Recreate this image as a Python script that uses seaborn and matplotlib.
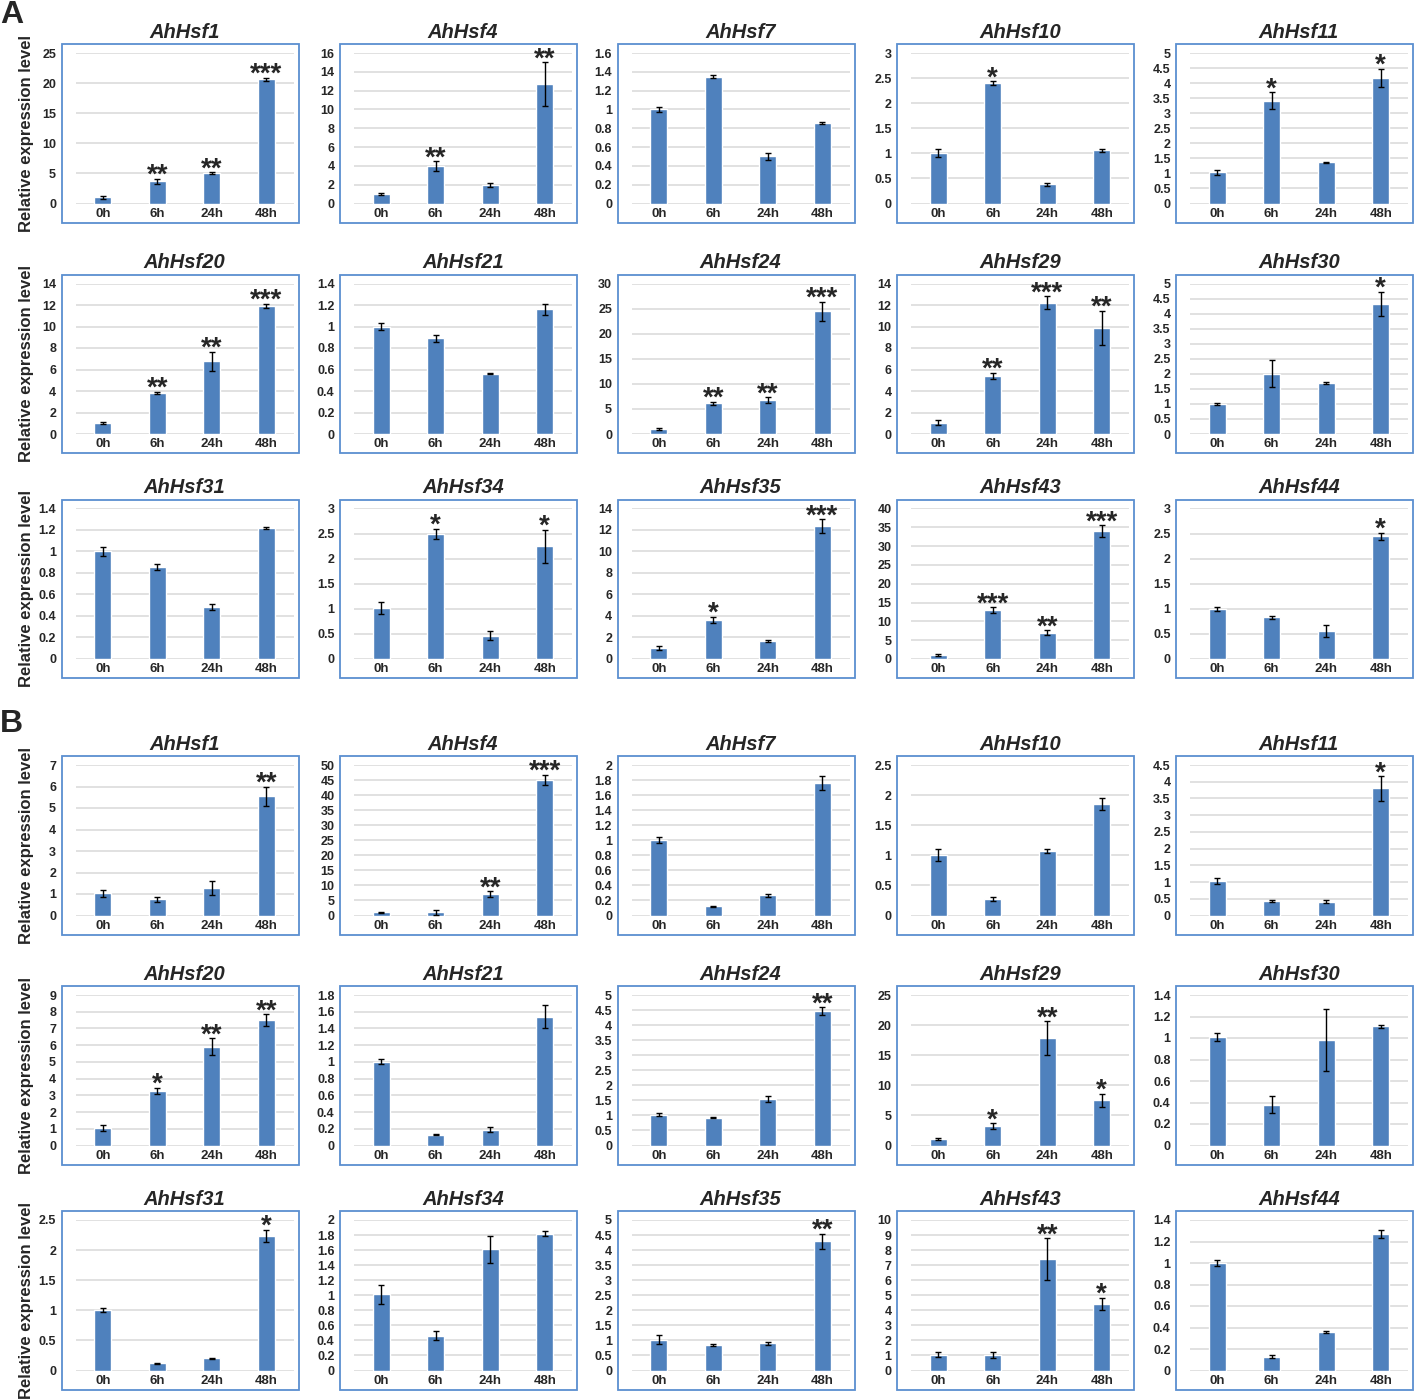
import numpy as np
import pandas as pd
import matplotlib
matplotlib.use("Agg")
import matplotlib.pyplot as plt
import matplotlib.patches as mpatches
from matplotlib.ticker import FuncFormatter
import seaborn as sns

# time points and gene names (same layout in panel A and B)
times = ["0h", "6h", "24h", "48h"]
genes = ["AhHsf1", "AhHsf4", "AhHsf7", "AhHsf10", "AhHsf11",
         "AhHsf20", "AhHsf21", "AhHsf24", "AhHsf29", "AhHsf30",
         "AhHsf31", "AhHsf34", "AhHsf35", "AhHsf43", "AhHsf44"]

# panel A
a_mean = [[1.0, 3.7, 5.0, 20.6], [1.0, 4.0, 2.0, 12.7], [1.0, 1.35, 0.5, 0.86],
          [1.0, 2.4, 0.38, 1.06], [1.03, 3.42, 1.37, 4.18],
          [1.0, 3.85, 6.75, 11.9], [1.0, 0.89, 0.56, 1.16], [1.0, 6.1, 6.7, 24.5],
          [1.05, 5.4, 12.2, 9.85], [1.0, 2.0, 1.7, 4.33],
          [1.0, 0.855, 0.485, 1.215], [1.01, 2.5, 0.46, 2.25], [1.0, 3.65, 1.65, 12.35],
          [1.0, 13.0, 7.0, 34.0], [1.0, 0.83, 0.55, 2.45]]
a_err = [[0.2, 0.4, 0.15, 0.3], [0.1, 0.5, 0.2, 2.3], [0.03, 0.02, 0.04, 0.01],
         [0.08, 0.04, 0.03, 0.03], [0.08, 0.28, 0.01, 0.3],
         [0.1, 0.1, 0.9, 0.2], [0.03, 0.03, 0.005, 0.05], [0.15, 0.3, 0.6, 1.9],
         [0.25, 0.3, 0.6, 1.6], [0.04, 0.45, 0.03, 0.4],
         [0.04, 0.03, 0.025, 0.01], [0.12, 0.1, 0.09, 0.33], [0.2, 0.3, 0.1, 0.65],
         [0.3, 0.8, 0.6, 1.5], [0.04, 0.03, 0.12, 0.07]]
a_stars = [["", "**", "**", "***"], ["", "**", "", "**"], ["", "", "", ""],
           ["", "*", "", ""], ["", "*", "", "*"],
           ["", "**", "**", "***"], ["", "", "", ""], ["", "**", "**", "***"],
           ["", "**", "***", "**"], ["", "", "", "*"],
           ["", "", "", ""], ["", "*", "", "*"], ["", "*", "", "***"],
           ["", "***", "**", "***"], ["", "", "", "*"]]
a_ymax = [25, 16, 1.6, 3, 5, 14, 1.4, 30, 14, 5, 1.4, 3, 14, 40, 3]
a_step = [5, 2, 0.2, 0.5, 0.5, 2, 0.2, 5, 2, 0.5, 0.2, 0.5, 2, 5, 0.5]

# panel B
b_mean = [[1.03, 0.75, 1.27, 5.55], [1.0, 1.1, 7.2, 45.0], [1.0, 0.12, 0.27, 1.76],
          [1.0, 0.27, 1.07, 1.85], [1.03, 0.42, 0.41, 3.8],
          [1.05, 3.25, 5.9, 7.5], [1.0, 0.13, 0.19, 1.54], [1.02, 0.93, 1.53, 4.47],
          [1.1, 3.2, 17.8, 7.5], [1.01, 0.38, 0.98, 1.11],
          [1.0, 0.12, 0.2, 2.24], [1.01, 0.46, 1.61, 1.82], [1.02, 0.85, 0.9, 4.3],
          [1.05, 1.0, 7.4, 4.45], [1.0, 0.13, 0.36, 1.27]]
b_err = [[0.15, 0.1, 0.33, 0.45], [0.3, 0.8, 0.9, 1.8], [0.04, 0.01, 0.02, 0.09],
         [0.1, 0.03, 0.03, 0.1], [0.1, 0.03, 0.05, 0.37],
         [0.2, 0.2, 0.5, 0.35], [0.03, 0.005, 0.03, 0.14], [0.05, 0.02, 0.1, 0.12],
         [0.2, 0.5, 2.8, 1.1], [0.04, 0.08, 0.29, 0.015],
         [0.03, 0.005, 0.015, 0.1], [0.12, 0.06, 0.18, 0.03], [0.15, 0.02, 0.06, 0.25],
         [0.15, 0.2, 1.4, 0.4], [0.03, 0.01, 0.01, 0.04]]
b_stars = [["", "", "", "**"], ["", "", "**", "***"], ["", "", "", ""],
           ["", "", "", ""], ["", "", "", "*"],
           ["", "*", "**", "**"], ["", "", "", ""], ["", "", "", "**"],
           ["", "*", "**", "*"], ["", "", "", ""],
           ["", "", "", "*"], ["", "", "", ""], ["", "", "", "**"],
           ["", "", "**", "*"], ["", "", "", ""]]
b_ymax = [7, 50, 2, 2.5, 4.5, 9, 1.8, 5, 25, 1.4, 2.5, 2, 5, 10, 1.4]
b_step = [1, 5, 0.2, 0.5, 0.5, 1, 0.2, 0.5, 5, 0.2, 0.5, 0.2, 0.5, 1, 0.2]

BAR = "#4F81BD"
FRAME = "#5B8FD0"
W, H = 1418, 1400

sns.set_theme(style="white")
plt.rcParams["font.family"] = ["Liberation Sans", "DejaVu Sans"]
plt.rcParams["font.weight"] = "bold"

fig = plt.figure(figsize=(W / 100, H / 100), dpi=100)

col_left = [61.5, 340, 617.5, 897, 1176]
row_top = [44, 274.5, 499.5, 756, 986, 1211]
fw, fh = 237, 178.5

panels = [(a_mean, a_err, a_stars, a_ymax, a_step),
          (b_mean, b_err, b_stars, b_ymax, b_step)]

for p, (means, errs, stars, ymaxs, steps) in enumerate(panels):
    for k in range(15):
        r = p * 3 + k // 5
        c = k % 5
        fl, ft = col_left[c], row_top[r]
        # outer blue frame
        fig.add_artist(mpatches.Rectangle((fl / W, 1 - (ft + fh) / H), fw / W, fh / H,
                                          transform=fig.transFigure, fill=False,
                                          edgecolor=FRAME, lw=1.3))
        ax = fig.add_axes([(fl + 14) / W, 1 - (ft + 159.5) / H, 218 / W, 150.5 / H])
        df = pd.DataFrame({"time": times, "level": means[k]})
        sns.barplot(data=df, x="time", y="level", ax=ax, color=BAR,
                    saturation=1, width=0.31, errorbar=None)
        ax.errorbar(range(4), means[k], yerr=errs[k], fmt="none",
                    ecolor="black", elinewidth=1, capsize=2, capthick=1)
        for i, s in enumerate(stars[k]):
            if s:
                ax.annotate(s, xy=(i, means[k][i] + errs[k][i]), xytext=(0, -3),
                            textcoords="offset points", ha="center", va="baseline",
                            fontsize=20, fontweight="bold", annotation_clip=False)
        ax.set_ylim(0, ymaxs[k])
        ax.set_yticks(np.arange(0, ymaxs[k] + steps[k] / 2, steps[k]))
        ax.yaxis.set_major_formatter(FuncFormatter(lambda v, pos: f"{v:g}"))
        ax.set_xlim(-0.5, 3.5)
        ax.yaxis.grid(True, color="#D9D9D9", lw=1.1)
        ax.set_axisbelow(True)
        for sp in ax.spines.values():
            sp.set_visible(False)
        ax.tick_params(axis="y", length=0, pad=14, labelsize=9)
        ax.tick_params(axis="x", length=0, pad=3, labelsize=9.5)
        for lab in ax.get_xticklabels() + ax.get_yticklabels():
            lab.set_fontweight("bold")
        ax.set_xlabel("")
        ax.set_ylabel("")
        ax.set_title(genes[k], fontsize=14.5, fontweight="bold", fontstyle="italic", pad=11)
        ax.patch.set_alpha(0)

for r in range(6):
    fig.text(27 / W, 1 - (row_top[r] + fh / 2) / H, "Relative expression level",
             rotation=90, ha="center", va="center", fontsize=12, fontweight="bold")

fig.text(0.0, 1 - 0 / H, "A", ha="left", va="top", fontsize=23, fontweight="bold")
fig.text(0.0, 1 - 709 / H, "B", ha="left", va="top", fontsize=23, fontweight="bold")

fig.savefig("out.png", dpi=100)
